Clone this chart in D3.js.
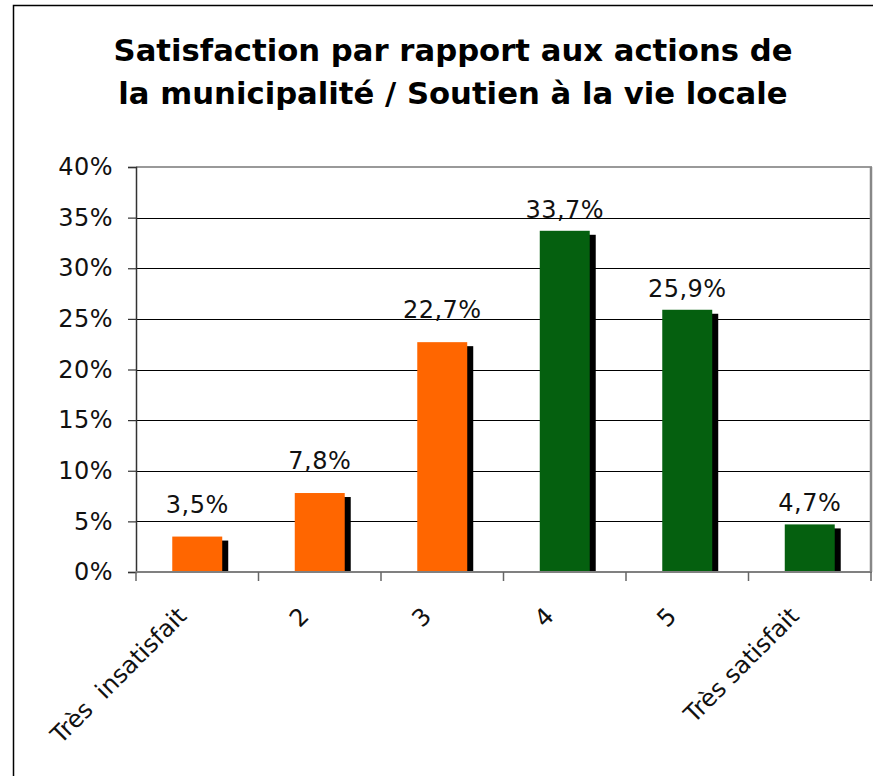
<!DOCTYPE html>
<html>
<head>
<meta charset="utf-8">
<script src="https://cdn.jsdelivr.net/npm/d3@7"></script>
<style>
  body { margin: 0; background: #fff; }
  svg { display: block; font-family: "DejaVu Sans", Verdana, sans-serif; }
</style>
</head>
<body>
<div id="chart"></div>
<script>
// data
var categories = ["Très  insatisfait", "2", "3", "4", "5", "Très satisfait"];
var values = [0.035, 0.078, 0.227, 0.337, 0.259, 0.047];
var yTicks = [0, 0.05, 0.10, 0.15, 0.20, 0.25, 0.30, 0.35, 0.40];
var titleLines = ["Satisfaction par rapport aux actions de", "la municipalité / Soutien à la vie locale"];

var width = 873, height = 776;
var plot = {left: 136, right: 871, top: 167, bottom: 572};

var fr = d3.formatLocale({decimal: ",", thousands: " ", grouping: [3], currency: ["", "€"]});
var fmtTick = fr.format(".0%");
var fmtLabel = fr.format(".1%");

var svg = d3.select("#chart").append("svg")
  .attr("width", width)
  .attr("height", height);

/* outer frame */
svg.append("rect")
  .attr("x", 13.5).attr("y", 5.5)
  .attr("width", 890).attr("height", 800)
  .attr("fill", "#fff")
  .attr("stroke", "#000")
  .attr("stroke-width", 1.5);

/* title */
svg.append("text")
  .attr("x", 453)
  .attr("text-anchor", "middle")
  .style("font-weight", "bold")
  .style("font-size", "30.7px")
  .selectAll("tspan")
  .data(titleLines).enter()
  .append("tspan")
  .attr("x", 453)
  .attr("y", (d, i) => 61 + i * 43)
  .text(d => d);

/* scales */
var x = d3.scaleBand()
  .domain(categories)
  .range([plot.left, plot.right]);

var xBar = d3.scaleBand()
  .domain(categories)
  .range([plot.left, plot.right])
  .paddingInner(0.592)
  .paddingOuter(0.296);

var y = d3.scaleLinear()
  .domain([0, 0.4])
  .range([plot.bottom, plot.top]);

var color = d3.scaleOrdinal()
  .domain(categories)
  .range(["#ff6600", "#ff6600", "#ff6600", "#05600f", "#05600f", "#05600f"]);

/* gridlines */
svg.append("g")
  .selectAll("line")
  .data(yTicks.filter(d => d > 0 && d < 0.4)).enter()
  .append("line")
  .attr("x1", plot.left).attr("x2", plot.right)
  .attr("y1", d => Math.round(y(d)) + 0.5)
  .attr("y2", d => Math.round(y(d)) + 0.5)
  .attr("stroke", "#000")
  .attr("stroke-width", 1.2);

/* plot border top / right */
svg.append("line")
  .attr("x1", plot.left).attr("x2", plot.right + 1)
  .attr("y1", plot.top).attr("y2", plot.top)
  .attr("stroke", "#999").attr("stroke-width", 2);
svg.append("line")
  .attr("x1", plot.right).attr("x2", plot.right)
  .attr("y1", plot.top).attr("y2", plot.bottom)
  .attr("stroke", "#888").attr("stroke-width", 2.5);

/* bars with shadow */
var bars = svg.append("g");
bars.selectAll(".shadow")
  .data(values).enter()
  .append("rect")
  .attr("class", "shadow")
  .attr("x", (d, i) => xBar(categories[i]) + 6)
  .attr("y", d => y(d) + 4)
  .attr("width", xBar.bandwidth())
  .attr("height", d => plot.bottom - y(d) - 4)
  .attr("fill", "#000");

bars.selectAll(".bar")
  .data(values).enter()
  .append("rect")
  .attr("class", "bar")
  .attr("x", (d, i) => xBar(categories[i]))
  .attr("y", d => y(d))
  .attr("width", xBar.bandwidth())
  .attr("height", d => plot.bottom - y(d))
  .attr("fill", (d, i) => color(categories[i]));

/* value labels */
svg.append("g")
  .selectAll("text")
  .data(values).enter()
  .append("text")
  .attr("x", (d, i) => xBar(categories[i]) + xBar.bandwidth() / 2)
  .attr("y", (d, i) => y(d) - (i < 3 ? 24 : 13))
  .attr("text-anchor", "middle")
  .style("font-size", "24px")
  .style("letter-spacing", "0.5px")
  .attr("fill", "#111")
  .text(d => fmtLabel(d));

/* y axis */
var yAxis = d3.axisLeft(y)
  .tickValues(yTicks)
  .tickFormat(fmtTick)
  .tickSize(8)
  .tickPadding(15);

var gy = svg.append("g")
  .attr("transform", `translate(${plot.left},0)`)
  .call(yAxis);
gy.select(".domain").attr("stroke", "#333").attr("stroke-width", 1.5);
gy.selectAll(".tick line").attr("stroke", "#333").attr("stroke-width", 1.2);
gy.selectAll(".tick text")
  .style("font-size", "24px")
  .style("letter-spacing", "0.5px")
  .style("font-family", "DejaVu Sans, Verdana, sans-serif")
  .attr("fill", "#111");

/* x axis */
svg.append("line")
  .attr("x1", plot.left).attr("x2", plot.right + 1)
  .attr("y1", plot.bottom).attr("y2", plot.bottom)
  .attr("stroke", "#808080").attr("stroke-width", 2);

var bounds = categories.map(c => x(c)).concat([plot.right]);
svg.append("g")
  .selectAll("line")
  .data(bounds).enter()
  .append("line")
  .attr("x1", d => d).attr("x2", d => d)
  .attr("y1", plot.bottom).attr("y2", plot.bottom + 9)
  .attr("stroke", "#666").attr("stroke-width", 1.5);

svg.append("g")
  .selectAll("text")
  .data(categories).enter()
  .append("text")
  .attr("transform", d => `translate(${x(d) + x.bandwidth() / 2 - 15},612) rotate(-45)`)
  .attr("text-anchor", "end")
  .attr("dominant-baseline", "central")
  .style("font-size", "24px")
  .style("white-space", "pre")
  .attr("fill", "#111")
  .text(d => d);
</script>
</body>
</html>
